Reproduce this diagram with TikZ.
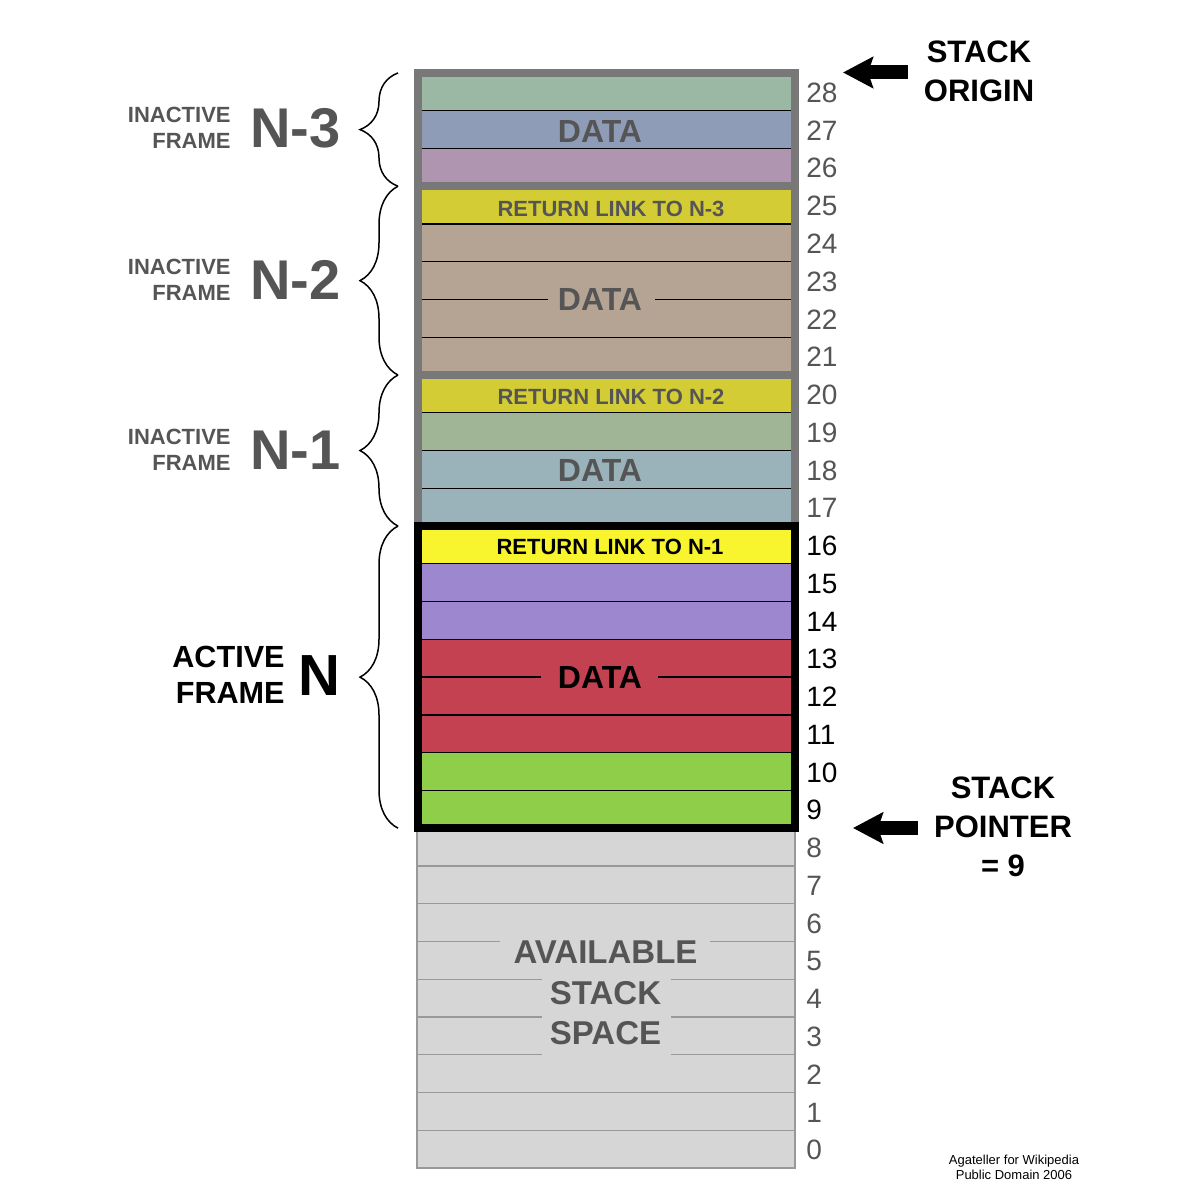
\documentclass[tikz,border=0pt]{standalone}
\usepackage{fontspec}
\setmainfont{Liberation Sans}
\usetikzlibrary{decorations.pathreplacing,arrows.meta}
\definecolor{cA}{HTML}{9BB8A5}
\definecolor{cB}{HTML}{8F9CB8}
\definecolor{cC}{HTML}{B095B0}
\definecolor{cY}{HTML}{D4CC34}
\definecolor{cT}{HTML}{B5A494}
\definecolor{cS}{HTML}{A0B595}
\definecolor{cQ}{HTML}{9AB3BA}
\definecolor{cYY}{HTML}{F8F42E}
\definecolor{cL}{HTML}{9D87CE}
\definecolor{cR}{HTML}{C44152}
\definecolor{cG}{HTML}{8ECE48}
\definecolor{availfill}{HTML}{D6D6D6}
\definecolor{availedge}{HTML}{999999}
\definecolor{framegray}{HTML}{787878}
\definecolor{tgray}{HTML}{555555}
\begin{document}
\begin{tikzpicture}[x=0.5pt,y=-0.5pt,
  cellline/.style={line width=0.65pt, black},
  availline/.style={line width=0.7pt, draw=availedge},
  grayframe/.style={draw=framegray, line width=3.75pt},
  activeframe/.style={draw=black, line width=4pt},
  bracestyle/.style={decorate, decoration={brace, amplitude=19pt}, line width=0.75pt},
  ptr/.style={line width=7pt, -{Stealth[length=15pt,width=15.5pt,inset=2.5pt]}},
  num/.style={anchor=west, inner sep=0pt, font=\fontsize{14}{16}\selectfont},
  datatext/.style={inner sep=0pt, font=\bfseries\fontsize{16}{18}\selectfont},
  linktext/.style={inner sep=0pt, font=\bfseries\fontsize{11}{13}\selectfont},
  inactlbl/.style={anchor=east, inner sep=0pt, align=right, text=tgray, font=\bfseries\fontsize{11}{13}\selectfont},
  framebig/.style={anchor=east, inner sep=0pt, font=\bfseries\fontsize{28}{30}\selectfont},
  sidetext/.style={inner sep=0pt, align=center, font=\bfseries\fontsize{15.5}{19.5}\selectfont},
  credit/.style={anchor=base, inner sep=0pt, font=\fontsize{6.5}{7.5}\selectfont}
]
\useasboundingbox (0,0) rectangle (1202,1202);
\fill[white] (0,0) rectangle (1202,1202);

% cells of the frames
\foreach \s/\c in {28/cA,27/cB,26/cC,25/cY,24/cT,23/cT,22/cT,21/cT,20/cY,19/cS,18/cQ,17/cQ,16/cYY,15/cL,14/cL,13/cR,12/cR,11/cR,10/cG,9/cG}{
  \fill[\c] (418,{1168-(\s+1)*37.76}) rectangle (795,{1168-\s*37.76});
}
% thin separators inside frames
\foreach \k in {28,27,25,24,22,20,19,18,16,15,14,12,11,10}{
  \draw[cellline] (418,{1168-\k*37.76}) -- (795,{1168-\k*37.76});
}
\draw[cellline] (418,{1168-23*37.76}) -- (548,{1168-23*37.76});
\draw[cellline] (655,{1168-23*37.76}) -- (795,{1168-23*37.76});
\draw[cellline] (418,{1168-13*37.76}) -- (541,{1168-13*37.76});
\draw[cellline] (658,{1168-13*37.76}) -- (795,{1168-13*37.76});

% available stack space
\fill[availfill] (417,{1168-9*37.76}) rectangle (795,1168);
\foreach \k in {1,2,7,8}{
  \draw[availline] (417,{1168-\k*37.76}) -- (795,{1168-\k*37.76});
}
\draw[availline] (417,{1168-6*37.76}) -- (500,{1168-6*37.76});
\draw[availline] (710,{1168-6*37.76}) -- (795,{1168-6*37.76});
\foreach \k in {3,4,5}{
  \draw[availline] (417,{1168-\k*37.76}) -- (542,{1168-\k*37.76});
  \draw[availline] (671,{1168-\k*37.76}) -- (795,{1168-\k*37.76});
}
\draw[availline] (417,{1168-9*37.76}) rectangle (795,1168);

% frame outlines
\draw[grayframe] (418,{1168-29*37.76}) rectangle (795,{1168-26*37.76});
\draw[grayframe] (418,{1168-26*37.76}) rectangle (795,{1168-21*37.76});
\draw[grayframe] (418,{1168-21*37.76}) rectangle (795,{1168-17*37.76});
\draw[activeframe] (418,{1168-17*37.76}) rectangle (795,{1168-9*37.76});

% texts in the cells
\node[datatext, text=tgray] (data3) at (600,131) {DATA};
\node[linktext, text=tgray] (link3) at (611,{1168-25.5*37.76+4}) {RETURN LINK TO N-3};
\node[datatext, text=tgray] (data2) at (600,{1168-23*37.76}) {DATA};
\node[linktext, text=tgray] (link2) at (611,{1168-20.5*37.76+3}) {RETURN LINK TO N-2};
\node[datatext, text=tgray] (data1) at (600,{1168-18.5*37.76+1}) {DATA};
\node[linktext, text=black] (link1) at (610,{1168-16.5*37.76+2}) {RETURN LINK TO N-1};
\node[datatext, text=black] (data0) at (600,{1168-13*37.76}) {DATA};
\node[inner sep=0pt, align=center, text=tgray, font=\bfseries\fontsize{16.5}{20.2}\selectfont] (avail) at (605.5,993) {AVAILABLE\\STACK\\SPACE};

% slot numbers
\foreach \s in {17,...,28}{
  \node[num, text=tgray] (n\s) at (806,{1168-(\s+0.5)*37.76+1}) {\s};
}
\foreach \s in {9,...,16}{
  \node[num, text=black] (n\s) at (806,{1168-(\s+0.5)*37.76+1}) {\s};
}
\foreach \s in {0,...,8}{
  \node[num, text=tgray] (n\s) at (806,{1168-(\s+0.5)*37.76+1}) {\s};
}

% braces
\draw[bracestyle] (398,{1168-26*37.76}) -- (398,{1168-29*37.76});
\draw[bracestyle] (398,{1168-21*37.76}) -- (398,{1168-26*37.76});
\draw[bracestyle] (398,{1168-17*37.76}) -- (398,{1168-21*37.76});
\draw[bracestyle] (398,{1168-9*37.76}) -- (398,{1168-17*37.76});

% frame labels
\node[inactlbl] (lab3) at (231,128) {INACTIVE\\FRAME};
\node[framebig, text=tgray] (big3) at (341,128) {N-3};
\node[inactlbl] (lab2) at (231,280) {INACTIVE\\FRAME};
\node[framebig, text=tgray] (big2) at (341,280) {N-2};
\node[inactlbl] (lab1) at (231,450) {INACTIVE\\FRAME};
\node[framebig, text=tgray] (big1) at (341,450) {N-1};
\node[anchor=east, inner sep=0pt, align=right, font=\bfseries\fontsize{15.3}{18}\selectfont] (lab0) at (285,675) {ACTIVE\\FRAME};
\node[framebig, font=\bfseries\fontsize{29}{30}\selectfont] (big0) at (341,676) {N};

% stack origin and pointer
\node[sidetext] (origin) at (979,71) {STACK\\ORIGIN};
\coordinate (origintail) at (908,72.5);
\coordinate (origintip) at (843,72.5);
\draw[ptr] (origintail) -- (origintip);

\node[sidetext] (pointer) at (1003,827) {STACK\\POINTER\\= 9};
\coordinate (pointertail) at (918,828);
\coordinate (pointertip) at (853,828);
\draw[ptr] (pointertail) -- (pointertip);

% credits
\node[credit] (cred1) at (1014,1164) {Agateller for Wikipedia};
\node[credit] (cred2) at (1014,1179) {Public Domain 2006};
\end{tikzpicture}
\end{document}
